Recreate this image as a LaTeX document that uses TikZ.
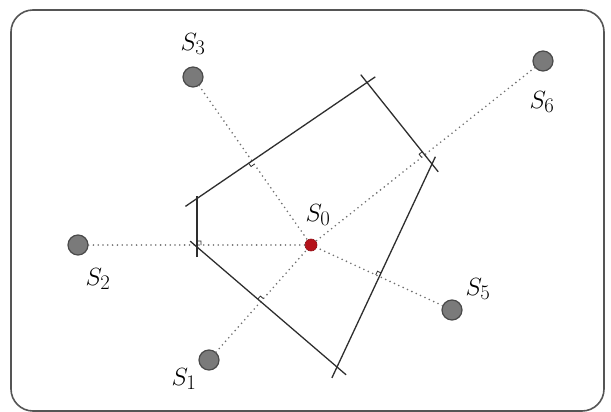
\documentclass[tikz,border=0pt]{standalone}
\usetikzlibrary{calc}
\definecolor{framegray}{HTML}{555555}
\definecolor{dotgray}{HTML}{707070}
\definecolor{sitefill}{HTML}{7A7A7A}
\definecolor{siteline}{HTML}{4A4A4A}
\definecolor{redsite}{HTML}{B5121B}
\definecolor{edgecol}{HTML}{2E2E2E}
\tikzset{
  site/.style={circle,fill=sitefill,draw=siteline,line width=1.2pt,minimum size=20pt,inner sep=0pt},
  center/.style={circle,fill=redsite,draw=redsite!80!black,line width=0.6pt,minimum size=12pt,inner sep=0pt},
  lab/.style={inner sep=0pt,font=\fontsize{28}{32}\selectfont},
  link/.style={draw=dotgray,line width=1.8pt,line cap=round,dash pattern=on 0pt off 4.8pt},
  edgeline/.style={draw=edgecol,line width=1.3pt},
  rmk/.style={draw=edgecol,line width=0.8pt},
  frame/.style={draw=framegray,line width=1.6pt,rounded corners=22pt}
}
\newcommand{\rightmk}[3]{%
  \coordinate (#1-a) at ($(#1)!4pt!(#2)$);
  \coordinate (#1-b) at ($(#1)!4pt!(#3)$);
  \draw[rmk] (#1-a) -- ($(#1-a)+(#1-b)-(#1)$) -- (#1-b);
}
\begin{document}
\begin{tikzpicture}[x=1pt,y=-1pt]
\useasboundingbox (0,0) rectangle (611,412);
\fill[white] (0,0) rectangle (611,412);
\draw[frame] (11,10) rectangle (604,411);

% Voronoi cell vertices
\coordinate (A) at (197,198.5);
\coordinate (B) at (367,82.5);
\coordinate (C) at (432,164);
\coordinate (D) at (337,367);
\coordinate (E) at (197,247);

% sites
\node[center] (s0) at (311,245) {};
\node[site] (s1) at (209,360) {};
\node[site] (s2) at (78,245) {};
\node[site] (s3) at (193,77) {};
\node[site] (s5) at (452,310) {};
\node[site] (s6) at (543,61) {};

% labels
\node[lab] (l0) at (318,215) {$S_0$};
\node[lab] (l1) at (184,379) {$S_1$};
\node[lab] (l2) at (98,279) {$S_2$};
\node[lab] (l3) at (193,44) {$S_3$};
\node[lab] (l5) at (478,289) {$S_5$};
\node[lab] (l6) at (542,102) {$S_6$};

% dotted connectors
\foreach \s in {s1,s2,s3,s5,s6}
  \draw[link] (\s) -- (s0);

% cell edges (slightly extended past each vertex)
\draw[edgeline,shorten <=-14pt,shorten >=-10pt] (A) -- (B);
\draw[edgeline,shorten <=-10pt,shorten >=-10pt] (B) -- (C);
\draw[edgeline,shorten <=-8pt,shorten >=-12pt] (C) -- (D);
\draw[edgeline,shorten <=-12pt,shorten >=-9pt] (D) -- (E);
\draw[edgeline,shorten <=-10pt,shorten >=-3pt] (E) -- (A);

% right-angle marks at crossings
\coordinate (m1) at (intersection of s0--s1 and D--E);
\coordinate (m2) at (intersection of s0--s2 and E--A);
\coordinate (m3) at (intersection of s0--s3 and A--B);
\coordinate (m5) at (intersection of s0--s5 and C--D);
\coordinate (m6) at (intersection of s0--s6 and B--C);
\rightmk{m1}{s0}{E}
\rightmk{m2}{s0}{A}
\rightmk{m3}{s0}{A}
\rightmk{m5}{s0}{C}
\rightmk{m6}{s0}{B}
\end{tikzpicture}
\end{document}
